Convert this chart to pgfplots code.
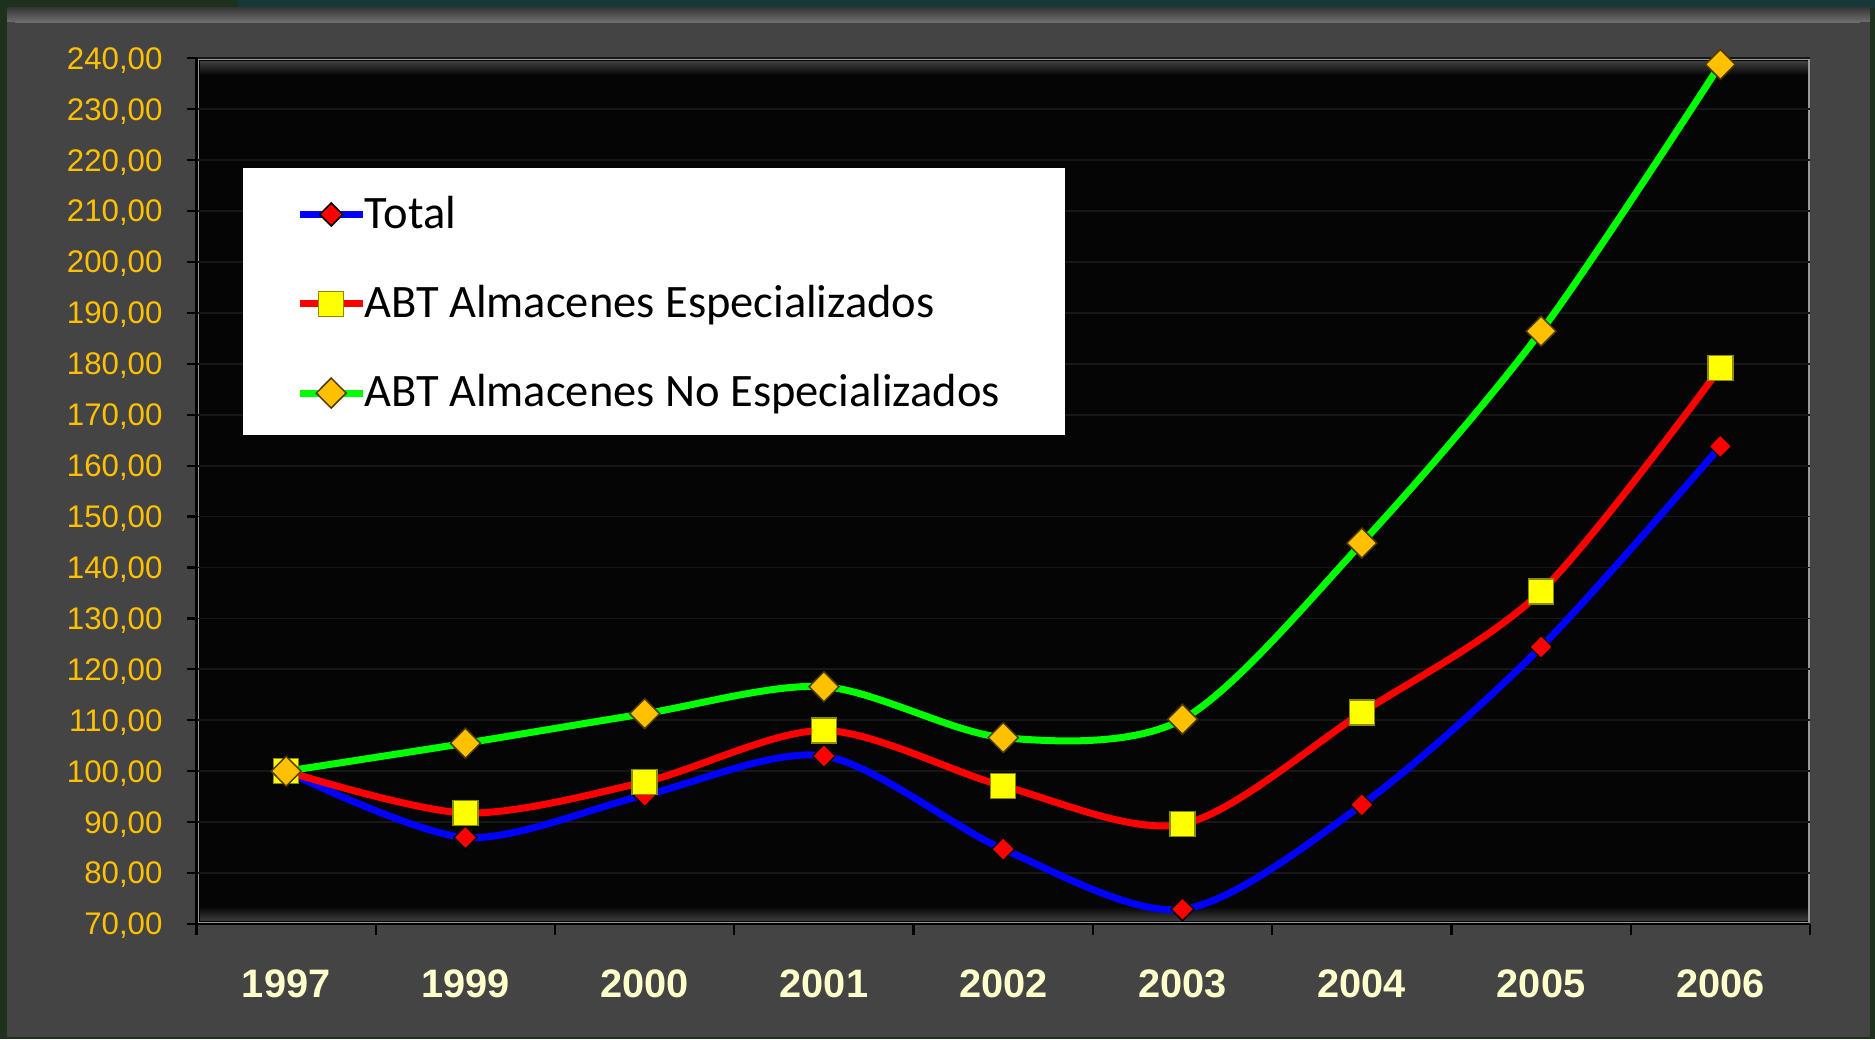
\documentclass[border=0pt]{standalone}
\usepackage{pgfplots}
\pgfplotsset{compat=1.18}
\usepackage{fontspec}
\setmainfont{Carlito}
\newfontfamily\arial{Liberation Sans}
\definecolor{bggreen}{HTML}{1D311D}
\definecolor{bgteal}{HTML}{173838}
\definecolor{panel}{HTML}{444444}
\definecolor{paneldk}{HTML}{383838}
\definecolor{panelhi}{HTML}{6C6C6C}
\definecolor{framegray}{HTML}{9A9A9A}
\definecolor{plotbg}{HTML}{050505}
\definecolor{bevelc}{HTML}{3A3A3A}
\definecolor{gridc}{HTML}{171717}
\definecolor{ygold}{HTML}{FFC000}
\definecolor{xcream}{HTML}{FFFFCC}
\definecolor{lgreen}{HTML}{00FF00}
\definecolor{lblue}{HTML}{0000FF}
\definecolor{lred}{HTML}{FF0000}
\definecolor{morange}{HTML}{FFC000}
\definecolor{myellow}{HTML}{FFFF00}
\definecolor{mdkyellow}{HTML}{8C8C00}
\begin{document}
\begin{tikzpicture}[x=1pt,y=1pt]
\useasboundingbox (0,0) rectangle (750,415.6);
\fill[bggreen] (0,0) rectangle (750,415.6);
\fill[bgteal] (95,412.4) rectangle (750,415.6);
\fill[panel] (2.8,0.8) rectangle (748,412.4);
\shade[top color=paneldk, bottom color=panelhi] (2.8,407) rectangle (748,412.4);
\fill[panelhi] (6,406.2) rectangle (744,407.2);
\fill[plotbg] (78.6,46) rectangle (724,392.3);
\shade[top color=bevelc, bottom color=plotbg] (80,385.5) rectangle (723,390.8);
\shade[top color=plotbg, bottom color=bevelc] (80,47.5) rectangle (723,53);
\draw[framegray, line width=0.7pt] (79.2,46.6) rectangle (723.6,391.8);
\begin{axis}[
  at={(78.6pt,46pt)}, anchor=south west,
  scale only axis, width=645.4pt, height=346.3pt,
  xmin=-0.5, xmax=8.5, ymin=70, ymax=240,
  axis x line*=bottom, axis y line*=left,
  axis line style={black, line width=0.9pt},
  clip=false,
  tick align=outside,
  ytick={70,80,...,240},
  xtick={0,...,8},
  xticklabels={1997,1999,2000,2001,2002,2003,2004,2005,2006},
  minor xtick={-0.5,0.5,...,8.5},
  major tick length=4pt, minor tick length=4.5pt,
  major x tick style={draw=none},
  minor x tick style={black, line width=0.9pt},
  ytick style={black, line width=0.9pt},
  ymajorgrids, major grid style={gridc, line width=0.7pt},
  yticklabel style={font=\arial\fontsize{12.5}{14}\selectfont, text=ygold, anchor=east, inner sep=0pt, text depth=0pt, xshift=-9.4pt,
     /pgf/number format/.cd, fixed, fixed zerofill, precision=2, use comma, assume math mode=true},
  xticklabel style={font=\arial\bfseries\fontsize{15.9}{18}\selectfont, text=xcream, anchor=north, inner sep=0pt, text depth=0pt, yshift=-14pt},
  legend style={at={(0.0615,0.7185)}, anchor=west, draw=none, fill=none, inner sep=0pt,
     row sep=22.8pt, column sep=-0.5pt, font=\fontsize{18.6}{21}\selectfont,
     cells={anchor=west}, nodes={inner sep=0pt, text depth=0pt}},
  legend image code/.code={\draw[#1, mark repeat=2, mark phase=2] plot coordinates {(0pt,-1pt)(12.6pt,-1pt)(25.2pt,-1pt)};},
]
\fill[white] (rel axis cs:0.0287,0.5645) rectangle (rel axis cs:0.538,0.8727);
\addplot[lblue, line width=2.8pt, smooth, tension=0.5, mark=diamond*, mark size=4.6pt,
  mark options={solid, fill=lred, draw=black, line width=0.6pt, xscale=1.33}]
  coordinates {(0,100.0)(1,87.0)(2,95.3)(3,103.0)(4,84.7)(5,72.9)(6,93.4)(7,124.4)(8,163.8)};
\addlegendentry{Total}
\addplot[lred, line width=2.8pt, smooth, tension=0.5, mark=square*, mark size=5pt,
  mark options={solid, fill=myellow, draw=mdkyellow, line width=0.6pt}]
  coordinates {(0,100.0)(1,91.8)(2,97.9)(3,108.0)(4,97.1)(5,89.6)(6,111.5)(7,135.3)(8,179.2)};
\addlegendentry{ABT Almacenes Especializados}
\addplot[lgreen, line width=2.8pt, smooth, tension=0.5, mark=diamond*, mark size=6pt,
  mark options={solid, fill=morange, draw=black!70!morange, line width=0.6pt, xscale=1.33}]
  coordinates {(0,100.0)(1,105.5)(2,111.3)(3,116.6)(4,106.6)(5,110.2)(6,144.8)(7,186.4)(8,238.8)};
\addlegendentry{ABT Almacenes No Especializados}
\end{axis}
\end{tikzpicture}
\end{document}
